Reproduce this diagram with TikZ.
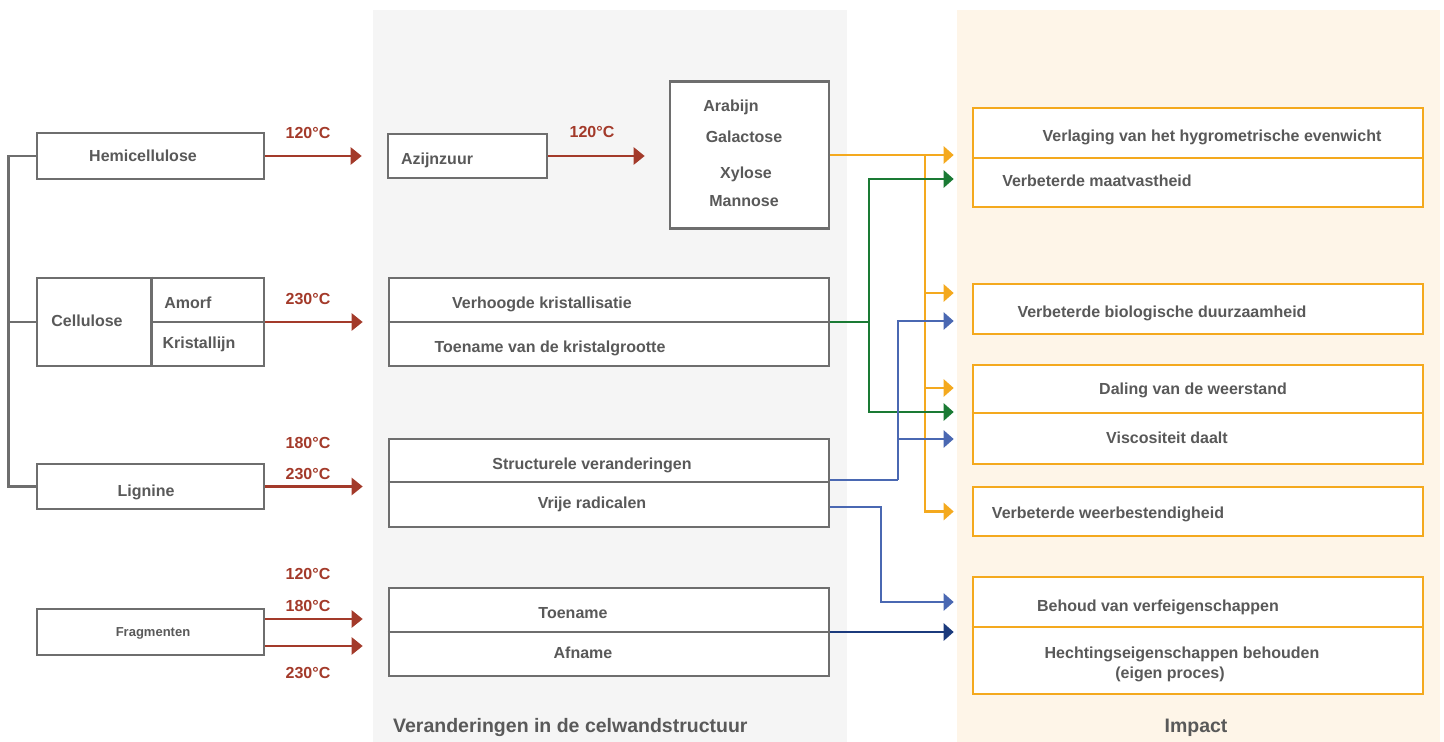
\documentclass[tikz,border=0pt]{standalone}
\usepackage{fontspec}
\setmainfont{Liberation Sans}
\usetikzlibrary{arrows.meta,calc}
\definecolor{txt}{HTML}{595959}
\definecolor{boxgray}{HTML}{6E6E6E}
\definecolor{redc}{HTML}{A33A2A}
\definecolor{orng}{HTML}{F4A91E}
\definecolor{grn}{HTML}{1A7A34}
\definecolor{blu}{HTML}{4A68B2}
\definecolor{dblu}{HTML}{1B3A7C}
\definecolor{panelgray}{HTML}{F5F5F5}
\definecolor{panelbeige}{HTML}{FEF5E8}
\begin{document}
\begin{tikzpicture}[x=1pt,y=-1pt,
  box/.style={draw=boxgray, line width=2.6pt, fill=white, inner sep=0pt},
  obox/.style={draw=orng, line width=2.6pt, fill=white, inner sep=0pt},
  lbl/.style={text=txt, font=\bfseries\fontsize{16}{19}\selectfont, inner sep=0pt, text height=11.5pt, text depth=0pt},
  smalllbl/.style={text=txt, font=\bfseries\fontsize{13}{15}\selectfont, inner sep=0pt, text height=9.3pt, text depth=0pt},
  title/.style={text=txt, font=\bfseries\fontsize{19.5}{23}\selectfont, inner sep=0pt, text height=14pt, text depth=0pt},
  temp/.style={text=redc, font=\bfseries\fontsize{16}{19}\selectfont, inner sep=0pt, text height=11.5pt, text depth=0pt},
  grayline/.style={draw=boxgray, line width=2.6pt},
  redarr/.style={draw=redc, line width=2.5pt, -{Triangle[length=11pt,width=17pt]}, shorten >=25pt},
  oline/.style={draw=orng, line width=2.5pt},
  oarr/.style={draw=orng, line width=2.5pt, -{Triangle[length=10pt,width=17pt]}, shorten >=18pt},
  gline/.style={draw=grn, line width=2.5pt},
  garr/.style={draw=grn, line width=2.5pt, -{Triangle[length=10pt,width=17pt]}, shorten >=18pt},
  bline/.style={draw=blu, line width=2.2pt},
  barr/.style={draw=blu, line width=2.2pt, -{Triangle[length=10pt,width=17pt]}, shorten >=18pt},
  dbarr/.style={draw=dblu, line width=2.5pt, -{Triangle[length=10pt,width=17pt]}, shorten >=18pt}
]
\useasboundingbox (0,0) rectangle (1444,742);
% panels
\fill[panelgray] (373,10) rectangle (847,742);
\fill[panelbeige] (957,10) rectangle (1440,742);

% left boxes
\node[box, minimum width=227pt, minimum height=46pt] (hemi) at (150.5,156) {};
\node[box, minimum width=227pt, minimum height=88pt] (cell) at (150.5,322) {};
\node[box, minimum width=227pt, minimum height=45pt] (lig) at (150.5,486.5) {};
\node[box, minimum width=227pt, minimum height=46pt] (frag) at (150.5,632) {};
\draw[grayline] ($(cell.north west)+(116,0)$) -- ($(cell.south west)+(116,0)$);
\draw[grayline] ($(cell.west)+(116,0)$) -- (cell.east);
\draw[grayline] (hemi.west) -- ++(-27,0) |- (lig.west);
\draw[grayline] (cell.west) -- ++(-27,0);

% middle boxes
\node[box, minimum width=159pt, minimum height=44pt] (az) at (467.5,156) {};
\node[box, minimum width=159pt, minimum height=147pt] (sug) at (749.5,155) {};
\node[box, minimum width=440pt, minimum height=88pt] (cc) at (609,322) {};
\node[box, minimum width=440pt, minimum height=88pt] (lc) at (609,483) {};
\node[box, minimum width=440pt, minimum height=88pt] (fc) at (609,632) {};
\draw[grayline] (cc.west) -- (cc.east);
\draw[grayline] ($(lc.west)+(0,-1)$) -- ($(lc.east)+(0,-1)$);
\draw[grayline] (fc.west) -- (fc.east);

% right boxes
\node[obox, minimum width=450pt, minimum height=99pt] (r1) at (1198,157.5) {};
\node[obox, minimum width=450pt, minimum height=50pt] (r2) at (1198,309) {};
\node[obox, minimum width=450pt, minimum height=99pt] (r3) at (1198,414.5) {};
\node[obox, minimum width=450pt, minimum height=49pt] (r4) at (1198,511.5) {};
\node[obox, minimum width=450pt, minimum height=117pt] (r5) at (1198,635.5) {};
\draw[draw=orng, line width=2.6pt] ($(r1.west)+(0,0.5)$) -- ($(r1.east)+(0,0.5)$);
\draw[draw=orng, line width=2.6pt] ($(r3.west)+(0,-1.5)$) -- ($(r3.east)+(0,-1.5)$);
\draw[draw=orng, line width=2.6pt] ($(r5.west)+(0,-8.5)$) -- ($(r5.east)+(0,-8.5)$);

% red arrows
\draw[redarr] (hemi.east) -- (hemi.east -| az.west);
\draw[redarr] (cell.east) -- (cell.east -| cc.west);
\draw[redarr] (lig.east) -- (lig.east -| lc.west);
\draw[redarr] ($(frag.east)+(0,-13)$) -- ($(frag.east -| fc.west)+(0,-13)$);
\draw[redarr] ($(frag.east)+(0,14)$) -- ($(frag.east -| fc.west)+(0,14)$);
\draw[redarr, shorten >=24pt] (az.east) -- (az.east -| sug.west);

% temperature labels
\node[temp] (t1) at (308,133) {120°C};
\node[temp] (t2) at (308,299) {230°C};
\node[temp] (t3) at (308,443) {180°C};
\node[temp] (t4) at (308,474) {230°C};
\node[temp] (t5) at (308,574) {120°C};
\node[temp] (t6) at (308,606) {180°C};
\node[temp] (t7) at (308,673) {230°C};
\node[temp] (t8) at (592,132) {120°C};

% orange connectors
\coordinate (oj) at (925,156);
\draw[oline] (oj) -- (925,511);
\draw[oarr] (sug.east) -- (sug.east -| r1.west);
\draw[oarr] (oj) |- ($(r2.west)+(0,-16)$);
\draw[oarr] (oj) |- ($(r3.west)+(0,-26.5)$);
\draw[oarr] (oj) |- ($(r4.west)+(0,0)$);

% green connectors
\coordinate (gj) at (869,322);
\draw[gline] (cc.east) -- (gj);
\draw[garr] (gj) |- ($(r1.west)+(0,21.5)$);
\draw[garr] (gj) |- ($(r3.west)+(0,-2.5)$);

% blue connectors
\coordinate (bj) at (898,480);
\draw[bline] ($(lc.east)+(0,-3)$) -- (bj);
\draw[barr] (bj) |- ($(r2.west)+(0,12)$);
\draw[barr] (bj) |- ($(r3.west)+(0,24.5)$);
\draw[barr] ($(lc.east)+(0,24)$) -- ++(51,0) |- ($(r5.west)+(0,-33.5)$);
\draw[dbarr] (fc.east) -- (fc.east -| r5.west);

% left texts
\node[lbl] (themi) at (143,156) {Hemicellulose};
\node[lbl] (tcell) at (87,321) {Cellulose};
\node[lbl] (tam) at (188,303) {Amorf};
\node[lbl] (tkr) at (199,343) {Kristallijn};
\node[lbl] (tlig) at (146,491) {Lignine};
\node[smalllbl] (tfrag) at (153,632) {Fragmenten};

% middle texts
\node[lbl] (taz) at (437,159) {Azijnzuur};
\node[lbl] (tara) at (731,106) {Arabijn};
\node[lbl] (tgal) at (744,137) {Galactose};
\node[lbl] (txyl) at (746,173) {Xylose};
\node[lbl] (tman) at (744,201) {Mannose};
\node[lbl] (tvk) at (542,303) {Verhoogde kristallisatie};
\node[lbl] (ttk) at (550,347) {Toename van de kristalgrootte};
\node[lbl] (tsv) at (592,464) {Structurele veranderingen};
\node[lbl] (tvr) at (592,503) {Vrije radicalen};
\node[lbl] (tto) at (573,613) {Toename};
\node[lbl] (taf) at (583,653) {Afname};
\node[title, anchor=west] (ttitle) at (393,725) {Veranderingen in de celwandstructuur};

% right texts
\node[lbl] (tr1a) at (1212,136) {Verlaging van het hygrometrische evenwicht};
\node[lbl] (tr1b) at (1097,181) {Verbeterde maatvastheid};
\node[lbl] (tr2) at (1162,312) {Verbeterde biologische duurzaamheid};
\node[lbl] (tr3a) at (1193,389) {Daling van de weerstand};
\node[lbl] (tr3b) at (1167,438) {Viscositeit daalt};
\node[lbl] (tr4) at (1108,513) {Verbeterde weerbestendigheid};
\node[lbl] (tr5a) at (1158,606) {Behoud van verfeigenschappen};
\node[lbl] (tr5b) at (1182,653) {Hechtingseigenschappen behouden};
\node[lbl] (tr5c) at (1170,673) {(eigen proces)};
\node[title] (timpact) at (1196,725) {Impact};
\end{tikzpicture}
\end{document}
